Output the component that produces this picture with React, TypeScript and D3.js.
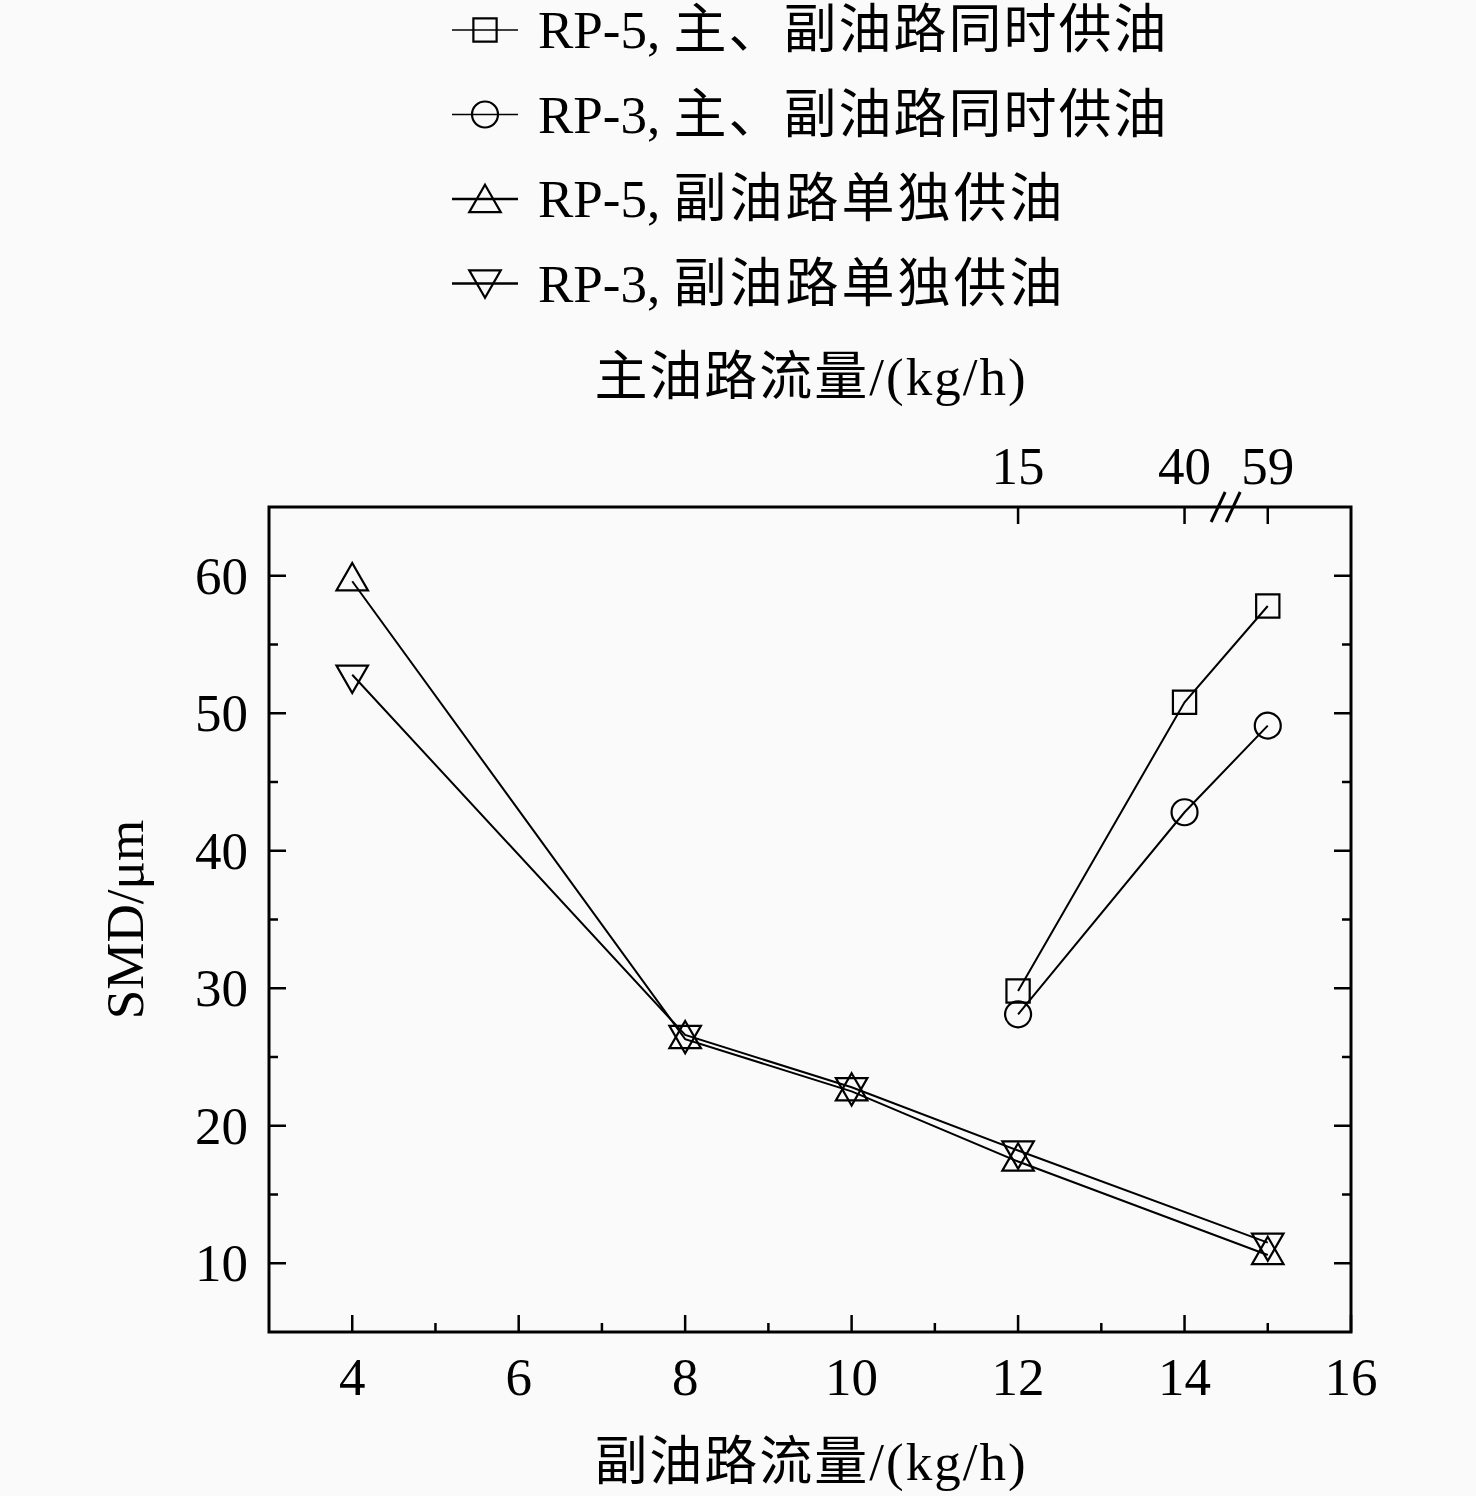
import React from 'react';
import * as d3 from 'd3';

// bottom axis: 副油路流量 (kg/h)
const xTicks = [4, 6, 8, 10, 12, 14, 16];
const xMinorTicks = [5, 7, 9, 11, 13, 15];
const yTicks = [10, 20, 30, 40, 50, 60];
const yMinorTicks = [15, 25, 35, 45, 55];

// top axis: 主油路流量 (kg/h), placed over the bottom-axis positions
const topTickPos = [12, 14, 15];
const topTickLabels = ['15', '40', '59'];
const topBreakPos = 14.5;

const singleX = [4, 8, 10, 12, 15];
const combinedX = [12, 14, 15];

const rp5Combined = [29.8, 50.8, 57.8];
const rp3Combined = [28.1, 42.8, 49.1];
const rp5Single = [59.6, 26.3, 22.5, 17.4, 10.6];
const rp3Single = [52.8, 26.6, 22.8, 18.2, 11.5];

const legendFuel = ['RP-5, ', 'RP-3, ', 'RP-5, ', 'RP-3, '];
const legendMode = ['主、副油路同时供油', '主、副油路同时供油', '副油路单独供油', '副油路单独供油'];

const W = 1476;
const H = 1496;
const FONT = '"Liberation Serif", "Times New Roman", "Noto Sans CJK SC", serif';

const plot = { left: 269, right: 1351, top: 507, bottom: 1332 };

type Marker = 'square' | 'circle' | 'up' | 'down';

const symbolPath = (m: Marker) => {
  if (m === 'square') return d3.symbol(d3.symbolSquare, 540)()!;
  if (m === 'circle') return d3.symbol(d3.symbolCircle, 530)()!;
  return d3.symbol(d3.symbolTriangle, 430)()!;
};

const MarkerShape: React.FC<{ m: Marker; x: number; y: number }> = ({ m, x, y }) => (
  <path
    d={symbolPath(m)}
    transform={`translate(${x},${y})${m === 'down' ? ' rotate(180)' : ''}`}
    fill="none"
    stroke="#000"
    strokeWidth={2.2}
  />
);

export default function App() {
  const x = d3.scaleLinear().domain([3, 16]).range([plot.left, plot.right]);
  const y = d3.scaleLinear().domain([5, 65]).range([plot.bottom, plot.top]);

  const line = d3
    .line<[number, number]>()
    .x(d => x(d[0]))
    .y(d => y(d[1]));

  const series: { xs: number[]; ys: number[]; m: Marker }[] = [
    { xs: combinedX, ys: rp5Combined, m: 'square' },
    { xs: combinedX, ys: rp3Combined, m: 'circle' },
    { xs: singleX, ys: rp5Single, m: 'up' },
    { xs: singleX, ys: rp3Single, m: 'down' },
  ];
  const legendMarkers: Marker[] = ['square', 'circle', 'up', 'down'];

  const major = 17;
  const minor = 9;

  return (
    <svg
      width={W}
      height={H}
      style={{ position: 'absolute', left: 0, top: 0, background: '#fafafa' }}
      fontFamily={FONT}
    >
      <rect width={W} height={H} fill="#fafafa" />

      {/* Legend */}
      {legendMode.map((mode, i) => {
        const cy = 30 + i * 84.5;
        const m = legendMarkers[i];
        return (
          <g key={`lg${i}`}>
            <line x1={452} x2={518} y1={cy} y2={cy} stroke="#000" strokeWidth={i < 2 ? 1.6 : 2.6} />
            <MarkerShape m={m} x={485} y={cy + (m === 'up' ? 4 : m === 'down' ? -4 : 0)} />
            <text x={538} y={cy + 18} fontSize={53} fill="#000">
              {legendFuel[i]}
              <tspan letterSpacing={i < 2 ? 2 : 3}>{mode}</tspan>
            </text>
          </g>
        );
      })}

      {/* Top axis title */}
      <text x={811} y={395} fontSize={53} textAnchor="middle" fill="#000" letterSpacing={2}>
        主油路流量/(kg/h)
      </text>

      {/* Plot frame */}
      <rect
        x={plot.left}
        y={plot.top}
        width={plot.right - plot.left}
        height={plot.bottom - plot.top}
        fill="none"
        stroke="#000"
        strokeWidth={3}
      />

      {/* Bottom ticks */}
      {xTicks.map(t => (
        <g key={`xb${t}`}>
          <line x1={x(t)} x2={x(t)} y1={plot.bottom} y2={plot.bottom - major} stroke="#000" strokeWidth={2.5} />
          <text x={x(t)} y={1395} fontSize={53} textAnchor="middle" fill="#000">
            {t}
          </text>
        </g>
      ))}
      {xMinorTicks.map(t => (
        <line key={`xm${t}`} x1={x(t)} x2={x(t)} y1={plot.bottom} y2={plot.bottom - minor} stroke="#000" strokeWidth={2.5} />
      ))}

      {/* Top ticks */}
      {topTickPos.map((t, i) => (
        <g key={`xt${t}`}>
          <line x1={x(t)} x2={x(t)} y1={plot.top} y2={plot.top + major} stroke="#000" strokeWidth={2.5} />
          <text x={x(t)} y={484} fontSize={53} textAnchor="middle" fill="#000">
            {topTickLabels[i]}
          </text>
        </g>
      ))}
      {[-8, 7].map(dx => (
        <line
          key={`br${dx}`}
          x1={x(topBreakPos) + dx - 7}
          y1={plot.top + 15}
          x2={x(topBreakPos) + dx + 7}
          y2={plot.top - 15}
          stroke="#000"
          strokeWidth={3}
        />
      ))}

      {/* Left / right ticks */}
      {yTicks.map(t => (
        <g key={`y${t}`}>
          <line x1={plot.left} x2={plot.left + major} y1={y(t)} y2={y(t)} stroke="#000" strokeWidth={2.5} />
          <line x1={plot.right} x2={plot.right - major} y1={y(t)} y2={y(t)} stroke="#000" strokeWidth={2.5} />
          <text x={248} y={y(t) + 18} fontSize={53} textAnchor="end" fill="#000">
            {t}
          </text>
        </g>
      ))}
      {yMinorTicks.map(t => (
        <g key={`ym${t}`}>
          <line x1={plot.left} x2={plot.left + minor} y1={y(t)} y2={y(t)} stroke="#000" strokeWidth={2.5} />
          <line x1={plot.right} x2={plot.right - minor} y1={y(t)} y2={y(t)} stroke="#000" strokeWidth={2.5} />
        </g>
      ))}

      {/* Axis titles */}
      <text x={811} y={1480} fontSize={53} textAnchor="middle" fill="#000" letterSpacing={2}>
        副油路流量/(kg/h)
      </text>
      <text
        transform={`translate(143, ${y(35)}) rotate(-90)`}
        fontSize={53}
        textAnchor="middle"
        fill="#000"
      >
        SMD/μm
      </text>

      {/* Series */}
      {series.map((s, i) => {
        const pts = s.xs.map((v, j) => [v, s.ys[j]] as [number, number]);
        return (
          <g key={`s${i}`}>
            <path d={line(pts)!} fill="none" stroke="#000" strokeWidth={2} />
            {pts.map(p => (
              <MarkerShape key={`${i}-${p[0]}`} m={s.m} x={x(p[0])} y={y(p[1])} />
            ))}
          </g>
        );
      })}
    </svg>
  );
}
